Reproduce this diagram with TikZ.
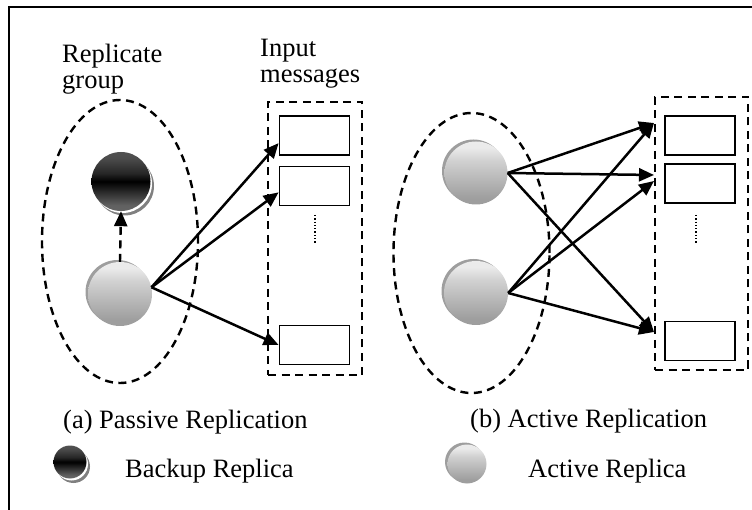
\documentclass[tikz,border=0pt]{standalone}
\usepackage{fontspec}
\setmainfont{Liberation Serif}
\usetikzlibrary{arrows.meta,shapes.geometric,shadows}
\pgfdeclareverticalshading{darkband}{100bp}{color(0bp)=(black!55); color(30bp)=(black!62); color(42bp)=(black!85); color(50bp)=(black); color(57bp)=(black!85); color(70bp)=(black!70); color(100bp)=(black!60)}
\pgfdeclareverticalshading{lightgrad}{100bp}{color(0bp)=(black!40); color(30bp)=(black!38); color(60bp)=(black!18); color(70bp)=(black!8); color(100bp)=(black!5)}
\begin{document}
\begin{tikzpicture}[x=1pt,y=-1pt,
  every node/.style={inner sep=0pt},
  lbl/.style={font=\fontsize{26.5}{26}\selectfont, align=left},
  dsh/.style={dash pattern=on 8pt off 5.5pt, line width=2.4pt},
  arr/.style={line width=2.5pt, -{Triangle[length=15pt,width=13pt]}},
  darkball/.style={circle, minimum size=#1, shading=darkband,
     general shadow={fill=black!50, shadow xshift=3.5pt, shadow yshift=-4.5pt},
     general shadow={fill=white, shadow xshift=1.5pt, shadow yshift=-2pt}},
  lightball/.style={circle, minimum size=#1, shading=lightgrad,
     general shadow={fill=black!38, shadow xshift=-2.5pt, shadow yshift=2pt}},
  msg/.style={draw, line width=1.8pt, minimum width=70pt, minimum height=39pt},
  grp/.style={ellipse, draw, dsh},
  cont/.style={draw, dsh}
]
\useasboundingbox (0,0) rectangle (752,510);
\draw[line width=1.8pt] (9,520) -- (9,7) -- (760,7);

% ---------- (a) passive replication ----------
\node[lbl, anchor=north west] (tg) at (62,44) {Replicate\\group};
\node[lbl, anchor=north west] (tm) at (260,38.5) {Input\\messages};
\node[grp, minimum width=156pt, minimum height=283pt] (g1) at (120,241.5) {};
\node[cont, minimum width=94pt, minimum height=273pt] (c1) at (315,238.5) {};
\node[msg] (a1) at (314.5,135.5) {};
\node[msg] (a2) at (314.5,186) {};
\node[msg] (a3) at (314.5,345) {};
\draw[line width=1.3pt, dotted] (315,215) -- (315,243);
\node[darkball=59pt] (db) at (121,181.5) {};
\node[lightball=64pt] (lb) at (120,294) {};
\draw[arr, dsh] (lb.north) -- (db.south);
\draw[arr] (lb.12) -- (a1.192);
\draw[arr] (lb.12) -- (a2.190);
\draw[arr] (lb.12) -- (a3.west);
\node[lbl, anchor=base west] (ca) at (63,428) {(a) Passive Replication};

% ---------- (b) active replication ----------
\node[grp, minimum width=156pt, minimum height=280pt] (g2) at (471.5,253) {};
\node[cont, minimum width=93pt, minimum height=273pt] (c2) at (701.5,233.5) {};
\node[msg] (b1) at (700,135.5) {};
\node[msg] (b2) at (700,183.5) {};
\node[msg] (b3) at (700,341) {};
\draw[line width=1.3pt, dotted] (696,215) -- (696,243);
\node[lightball=63pt] (ta) at (476,173) {};
\node[lightball=64pt] (tb) at (476,293) {};
\coordinate (ra) at (654,123);
\coordinate (rb) at (654,175);
\coordinate (rb2) at (654,181);
\coordinate (rc) at (654,332);
\draw[arr] (ta.east) -- (ra);
\draw[arr] (ta.east) -- (rb);
\draw[arr] (ta.east) -- (rc);
\draw[arr] (tb.east) -- (ra);
\draw[arr] (tb.east) -- (rb2);
\draw[arr] (tb.east) -- (rc);
\node[lbl, anchor=base west] (cb) at (470,427) {(b) Active Replication};

% ---------- legend ----------
\node[darkball=33pt] (ld) at (70,462) {};
\node[lbl, anchor=base west] (tbk) at (125,477) {Backup Replica};
\node[lightball=39pt] (ll) at (467,464) {};
\node[lbl, anchor=base west] (tac) at (528,477) {Active Replica};
\end{tikzpicture}
\end{document}
